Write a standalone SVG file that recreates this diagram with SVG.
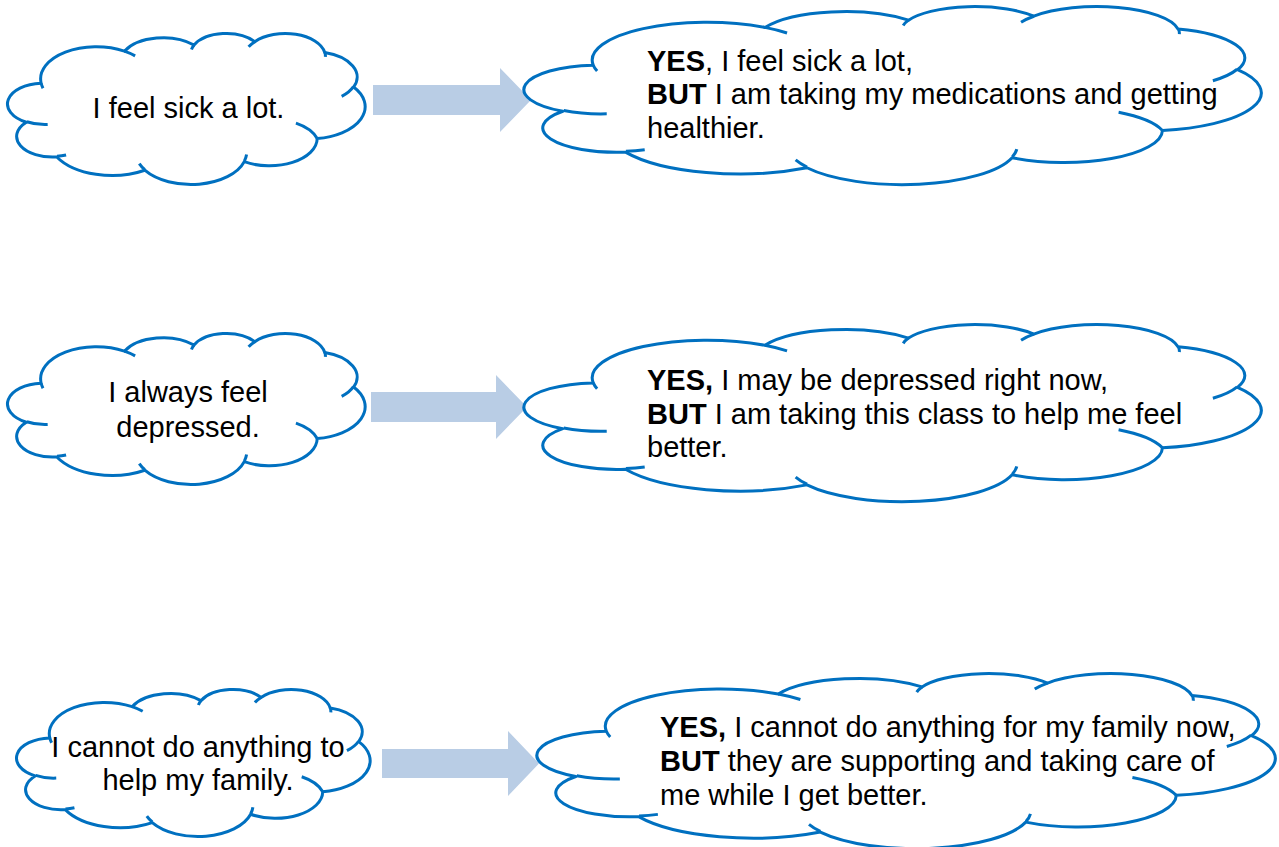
<svg xmlns="http://www.w3.org/2000/svg" xmlns:xlink="http://www.w3.org/1999/xlink" width="1279" height="847" viewBox="0 0 1279 847">
<style>
.outline{fill:#FFFFFF;stroke:#0070C0;stroke-width:3;vector-effect:non-scaling-stroke;stroke-linejoin:round}
.crease{fill:none;stroke:#0070C0;stroke-width:3;vector-effect:non-scaling-stroke}
.arrow{fill:#B9CDE5;stroke:none}
text{font-family:"Liberation Sans",Arial,Helvetica,sans-serif;font-size:29px;fill:#000000}
.b{font-weight:bold}
</style>
<defs>
<path id="cloudOutline" class="outline" d="M90.28,332.64 A156.32,212.73 0 0 1 324.14,120.39 A123.45,168.22 0 0 1 519.77,79.42 A101.04,137.62 0 0 1 690.53,57.38 A112.43,152.66 0 0 1 886.94,129 A123.45,168.36 0 0 1 967.99,357.8 A156.83,213.43 0 0 1 865.74,699.07 A133.91,182.11 0 0 1 660.9,852.08 A156.3,213.31 0 0 1 381.39,908.84 A178.7,244.05 0 0 1 134.21,821 A100.93,136.99 0 0 1 48.77,591.27 A100.58,137.62 0 0 1 90.28,332.64 Z"/>
<path id="cloudCreases" class="crease" d="M108.63,605.95 A100.58,137.62 0 0 1 50,587.5 M160.37,807.85 A100.93,136.99 0 0 1 134.75,816.67 M381.44,904.86 A156.3,213.31 0 0 1 365.97,864.56 M667.29,804.42 A156.3,213.31 0 0 1 661.11,848.66 M806,597 A133.91,182.11 0 0 1 865.74,699.07 M967.55,355.42 A123.45,168.36 0 0 1 934.44,419.75 M887.13,125.6 A112.43,152.66 0 0 1 888.73,158.29 M673.1,91.48 A112.43,152.66 0 0 1 690.53,57.38 M512.52,109.26 A101.04,137.62 0 0 1 519.77,79.42 M324.07,120.19 A156.32,212.73 0 0 1 354.28,151.67 M95.53,365.49 A156.32,212.73 0 0 1 90.28,332.64"/>
</defs>
<g id="connectors">
<polygon class="arrow" points="373,85 500,85 500,68 531,100 500,132 500,115 373,115"/>
<polygon class="arrow" points="371,392 496,392 496,375 527,407 496,439 496,422 371,422"/>
<polygon class="arrow" points="382,749 508,749 508,731 539,763.5 508,796 508,778 382,778"/>
</g>
<g id="node-sick">
<g transform="translate(9,33) scale(0.356,0.151)"><use xlink:href="#cloudOutline"/><use xlink:href="#cloudCreases"/></g>
<text x="188.5" y="118.3" text-anchor="middle">I feel sick a lot.</text>
</g>
<g id="node-sick-reframe">
<g transform="translate(527,6) scale(0.734,0.178)"><use xlink:href="#cloudOutline"/><use xlink:href="#cloudCreases"/></g>
<text x="647" y="70.7"><tspan class="b">YES</tspan>, I feel sick a lot,</text>
<text x="647" y="104.3"><tspan class="b">BUT</tspan> I am taking my medications and getting</text>
<text x="647" y="138.2">healthier.</text>
</g>
<g id="node-depressed">
<g transform="translate(9,333) scale(0.356,0.151)"><use xlink:href="#cloudOutline"/><use xlink:href="#cloudCreases"/></g>
<text x="188" y="401.7" text-anchor="middle">I always feel</text>
<text x="188" y="436.5" text-anchor="middle">depressed.</text>
</g>
<g id="node-depressed-reframe">
<g transform="translate(527,324) scale(0.734,0.177)"><use xlink:href="#cloudOutline"/><use xlink:href="#cloudCreases"/></g>
<text x="647" y="390"><tspan class="b">YES,</tspan> I may be depressed right now,</text>
<text x="647" y="423.5"><tspan class="b">BUT</tspan> I am taking this class to help me feel</text>
<text x="647" y="457">better.</text>
</g>
<g id="node-family">
<g transform="translate(18,689) scale(0.352,0.147)"><use xlink:href="#cloudOutline"/><use xlink:href="#cloudCreases"/></g>
<text x="198" y="756.7" text-anchor="middle">I cannot do anything to</text>
<text x="198" y="790" text-anchor="middle">help my family.</text>
</g>
<g id="node-family-reframe">
<g transform="translate(540,673) scale(0.735,0.175)"><use xlink:href="#cloudOutline"/><use xlink:href="#cloudCreases"/></g>
<text x="660" y="737.3"><tspan class="b">YES,</tspan> I cannot do anything for my family now,</text>
<text x="660" y="770.7"><tspan class="b">BUT</tspan> they are supporting and taking care of</text>
<text x="660" y="805">me while I get better.</text>
</g>
</svg>
